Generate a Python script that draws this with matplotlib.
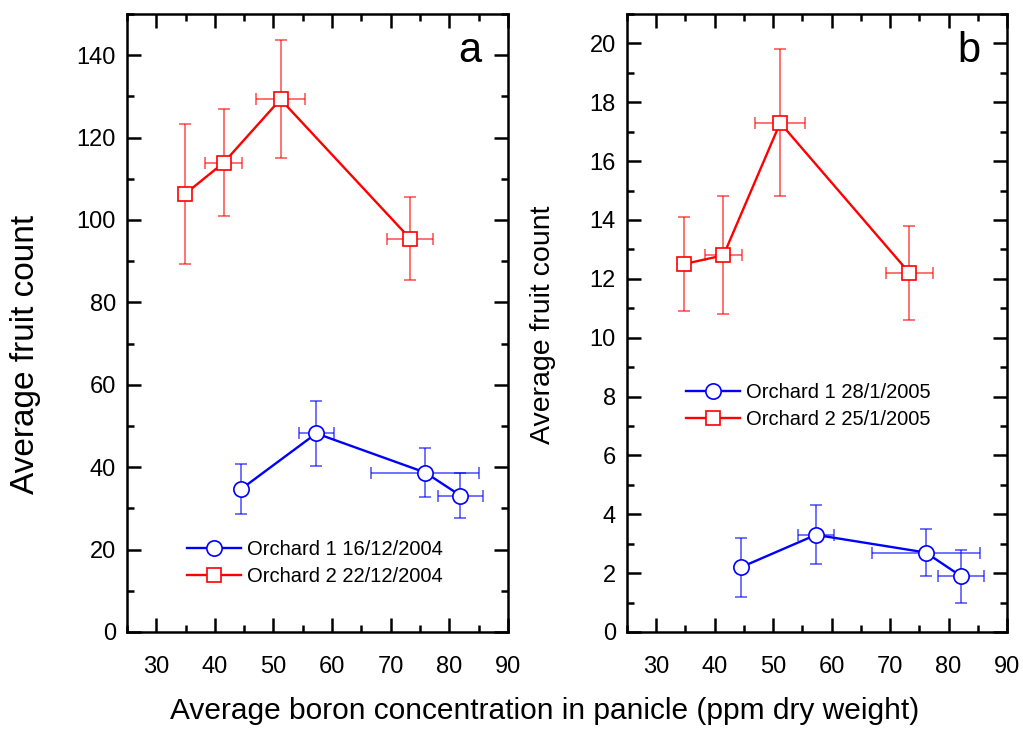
import matplotlib.pyplot as plt
from matplotlib.ticker import MultipleLocator

plt.rcParams['font.family'] = ['Liberation Sans', 'DejaVu Sans']

# panel a
a_o1_x = [44.5, 57.3, 75.9, 81.9]
a_o1_y = [34.7, 48.2, 38.7, 33.1]
a_o1_xerr = [0, 3.0, 9.2, 3.9]
a_o1_yerr = [6.1, 7.9, 6.0, 5.5]
a_o2_x = [34.9, 41.5, 51.2, 73.3]
a_o2_y = [106.3, 113.9, 129.3, 95.5]
a_o2_xerr = [0, 3.2, 4.2, 4.0]
a_o2_yerr = [17.0, 13.0, 14.3, 10.0]

# panel b
b_o1_x = [44.5, 57.3, 76.1, 82.1]
b_o1_y = [2.2, 3.3, 2.7, 1.9]
b_o1_xerr = [0, 3.1, 9.2, 3.9]
b_o1_yerr = [1.0, 1.0, 0.8, 0.9]
b_o2_x = [34.7, 41.5, 51.2, 73.3]
b_o2_y = [12.5, 12.8, 17.3, 12.2]
b_o2_xerr = [0, 3.2, 4.3, 4.0]
b_o2_yerr = [1.6, 2.0, 2.5, 1.6]

labels_a = ['Orchard 1 16/12/2004', 'Orchard 2 22/12/2004']
labels_b = ['Orchard 1 28/1/2005', 'Orchard 2 25/1/2005']

fig = plt.figure(figsize=(10.23, 7.29), dpi=100)
ax_a = fig.add_axes([0.1241, 0.1331, 0.3724, 0.8477])
ax_b = fig.add_axes([0.6129, 0.1331, 0.3715, 0.8477])


def draw(ax, series, labels, ymax, ymaj, legend_loc):
    handles = []
    for (x, y, xe, ye, color, marker, ms), lab in zip(series, labels):
        ax.errorbar(x, y, xerr=xe, yerr=ye, fmt='none', ecolor=color,
                    elinewidth=1.3, capsize=4, capthick=1.3, alpha=0.6,
                    zorder=2)
        h, = ax.plot(x, y, color=color, lw=1.7, marker=marker, ms=ms,
                     mfc='white', mec=color, mew=1.2, label=lab, zorder=3)
        handles.append(h)
    ax.set_xlim(25, 90)
    ax.set_ylim(0, ymax)
    ax.xaxis.set_major_locator(MultipleLocator(10))
    ax.xaxis.set_minor_locator(MultipleLocator(5))
    ax.yaxis.set_major_locator(MultipleLocator(ymaj))
    ax.yaxis.set_minor_locator(MultipleLocator(ymaj / 2))
    ax.tick_params(which='both', direction='in', top=True, right=True,
                   width=1.8, labelsize=17)
    ax.tick_params(axis='x', pad=17)
    ax.tick_params(axis='y', pad=8)
    ax.tick_params(which='major', length=10)
    ax.tick_params(which='minor', length=5)
    for s in ax.spines.values():
        s.set_linewidth(1.8)
    ax.legend(handles=handles, loc='center left', bbox_to_anchor=legend_loc,
              frameon=False, fontsize=14.5, handlelength=2.7,
              handletextpad=0.3, labelspacing=0.4, borderaxespad=0,
              borderpad=0)


draw(ax_a,
     [(a_o1_x, a_o1_y, a_o1_xerr, a_o1_yerr, 'blue', 'o', 11),
      (a_o2_x, a_o2_y, a_o2_xerr, a_o2_yerr, 'red', 's', 10.5)],
     labels_a, 150, 20, (0.157, 0.111))
draw(ax_b,
     [(b_o1_x, b_o1_y, b_o1_xerr, b_o1_yerr, 'blue', 'o', 11),
      (b_o2_x, b_o2_y, b_o2_xerr, b_o2_yerr, 'red', 's', 10.5)],
     labels_b, 21, 2, (0.155, 0.365))

ax_a.set_ylabel('Average fruit count', fontsize=24)
ax_a.yaxis.set_label_coords(-0.225, 0.449)
ax_b.set_ylabel('Average fruit count', fontsize=20.5)
ax_b.yaxis.set_label_coords(-0.187, 0.497)

ax_a.text(0.93, 0.972, 'a', transform=ax_a.transAxes, fontsize=30,
          ha='right', va='top')
ax_b.text(0.93, 0.972, 'b', transform=ax_b.transAxes, fontsize=30,
          ha='right', va='top')

fig.text(0.532, 0.0137, 'Average boron concentration in panicle (ppm dry weight)',
         fontsize=21.5, ha='center', va='baseline')

plt.savefig('out.png', dpi=100)
